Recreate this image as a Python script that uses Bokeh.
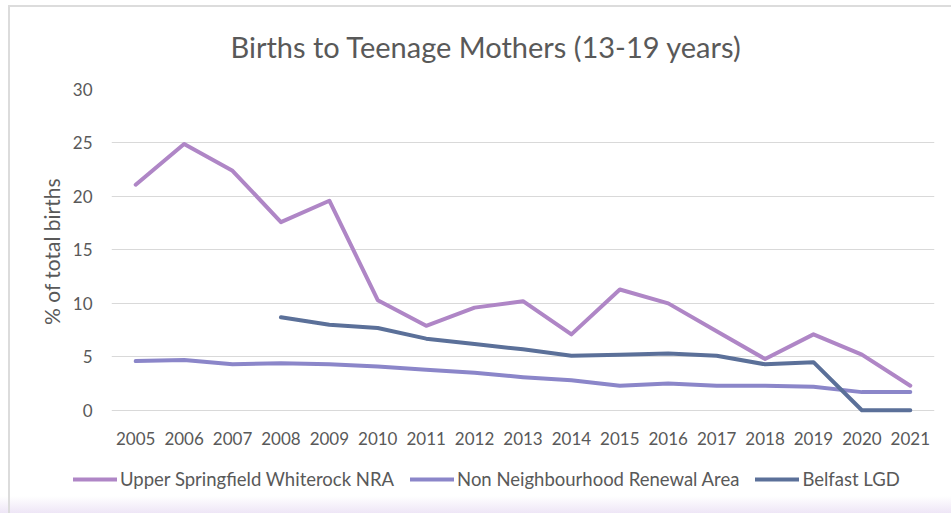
from bokeh.plotting import figure
from bokeh.layouts import column
from bokeh.models import Range1d, Legend, LegendItem, FixedTicker, Title
from bokeh.embed import file_html
from bokeh.resources import INLINE

years = [str(y) for y in range(2005, 2022)]
upper_springfield = [21.1, 24.9, 22.4, 17.6, 19.6, 10.3, 7.9, 9.6, 10.2, 7.1, 11.3, 10.0, 7.4, 4.8, 7.1, 5.2, 2.3]
non_nra = [4.6, 4.7, 4.3, 4.4, 4.3, 4.1, 3.8, 3.5, 3.1, 2.8, 2.3, 2.5, 2.3, 2.3, 2.2, 1.7, 1.7]
belfast_years = [str(y) for y in range(2008, 2022)]
belfast_lgd = [8.7, 8.0, 7.7, 6.7, 6.2, 5.7, 5.1, 5.2, 5.3, 5.1, 4.3, 4.5, 0.0, 0.0]
y_ticks = [0, 5, 10, 15, 20, 25, 30]
series_names = ["Upper Springfield Whiterock NRA", "Non Neighbourhood Renewal Area", "Belfast LGD"]
series_colors = ["#AF86C6", "#8B86C9", "#5B7099"]

FONT = "Lato"
TXT = "#595959"

p = figure(width=951, height=460, x_range=years, y_range=Range1d(-0.3, 30),
           output_backend="svg", toolbar_location=None,
           min_border_left=111, min_border_right=17, min_border_top=89, min_border_bottom=47)
p.border_fill_color = None
p.background_fill_color = None

p.title = Title(text="Births to Teenage Mothers (13-19 years)", align="left", offset=119,
                text_font=FONT, text_font_size="29px", text_font_style="normal",
                text_color=TXT, standoff=52)

p.outline_line_color = None
p.xgrid.grid_line_color = None
p.ygrid.grid_line_color = "#D9D9D9"
p.ygrid.grid_line_width = 1.2
p.yaxis.ticker = FixedTicker(ticks=y_ticks)

for ax in (p.xaxis, p.yaxis):
    ax.axis_line_color = None
    ax.major_tick_line_color = None
    ax.minor_tick_line_color = None
    ax.major_label_text_font = FONT
    ax.major_label_text_font_size = "17px"
    ax.major_label_text_color = TXT

p.xaxis.major_label_standoff = 12
p.yaxis.major_label_standoff = 13
p.yaxis.axis_label = "% of total births"
p.yaxis.axis_label_text_font = FONT
p.yaxis.axis_label_text_font_size = "21px"
p.yaxis.axis_label_text_font_style = "normal"
p.yaxis.axis_label_text_color = TXT
p.yaxis.axis_label_standoff = 6

line_kw = dict(line_width=4, line_cap="round", line_join="round")
p.line(years, upper_springfield, line_color=series_colors[0], **line_kw)
p.line(years, non_nra, line_color=series_colors[1], **line_kw)
p.line(belfast_years, belfast_lgd, line_color=series_colors[2], **line_kw)

# legend strip below the chart (same series, ranges chosen so only the legend shows)
lg = figure(width=951, height=53, x_range=years, y_range=Range1d(-100, -99),
            x_axis_type=None, y_axis_type=None, frame_align=False,
            output_backend="svg", toolbar_location=None,
            min_border_left=0, min_border_right=0, min_border_top=0, min_border_bottom=0)
lg.border_fill_color = None
lg.background_fill_color = None
lg.outline_line_color = None
lg.xgrid.grid_line_color = None
lg.ygrid.grid_line_color = None
items = []
for name, col, xs, ys in zip(series_names, series_colors,
                             [years, years, belfast_years],
                             [upper_springfield, non_nra, belfast_lgd]):
    r = lg.line(xs, ys, line_color=col, **line_kw)
    items.append(LegendItem(label=name, renderers=[r]))
legend = Legend(items=items, location=(73, 23), orientation="horizontal")
legend.background_fill_alpha = 0
legend.border_line_alpha = 0
legend.padding = 0
legend.margin = 0
legend.spacing = 16
legend.glyph_width = 44
legend.glyph_height = 20
legend.label_height = 20
legend.label_standoff = 3
legend.label_text_font = FONT
legend.label_text_font_size = "18.5px"
legend.label_text_color = TXT
lg.add_layout(legend)

layout = column(p, lg, spacing=0, styles={
    "background": "linear-gradient(#DCDCDC,#DCDCDC) 8px 5px / 2px 508px no-repeat, "
                  "linear-gradient(#DCDCDC,#DCDCDC) 8px 5px / 943px 2px no-repeat, "
                  "linear-gradient(to bottom, #FFFFFF 0px, #FFFFFF 496px, #EEE6F6 513px)"})

open("out.html", "w").write(file_html(layout, INLINE))
